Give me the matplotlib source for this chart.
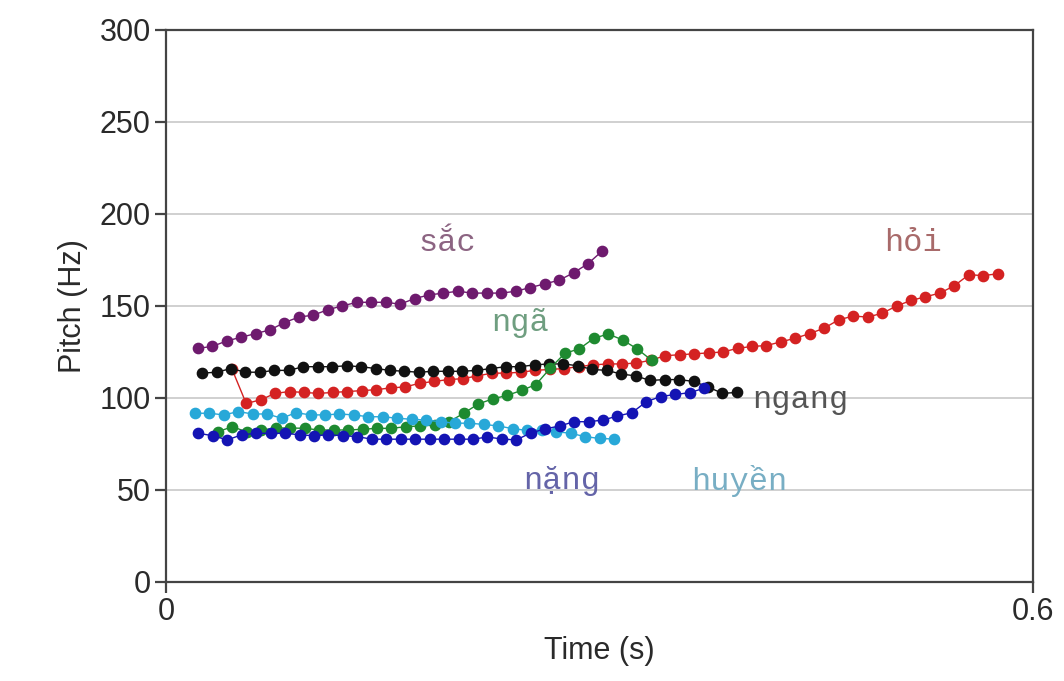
import numpy as np
import matplotlib
matplotlib.use("Agg")
import matplotlib.pyplot as plt

# DATOS (tiempos en s, pitch en Hz), paso de muestreo 0.01 s
# =========================================================
paso = 0.01

sac_t0 = 0.022
sac_f0 = [127, 128, 131, 133, 135, 137, 141, 144, 145, 148, 150, 152, 152, 152, 151,
          154, 156, 157, 158, 157, 157, 157, 158, 160, 162, 164, 168, 173, 180]

ngang_t0 = 0.025
ngang_f0 = [113.5, 114, 116, 114, 114, 115, 115, 117, 117, 117, 117.5, 117, 116, 115, 114.5,
            114, 114.5, 114.5, 114.5, 115, 116, 117, 117, 118, 118.5, 118.5, 117.5, 115.5,
            115, 113, 112, 109.5, 110, 110, 109, 106, 102.5, 103]

hoi_t0 = 0.0455
hoi_f0 = [116, 97, 99, 102.5, 103.5, 103, 102.5, 103, 103.5, 104, 104.5, 105.5, 106, 108,
          109, 110, 110.5, 112, 113.5, 113.5, 114, 115, 115.5, 116, 117, 118, 118.5, 118.5,
          119, 120.5, 123, 123.5, 124, 124.5, 125, 127, 128, 128.5, 130.5, 132.5, 135, 138,
          142.5, 144.5, 144, 146, 150, 153, 155, 157, 161, 167, 166.5, 167.5]

nga_t0 = 0.036
nga_f0 = [81.7, 84.4, 81.5, 82.6, 83.7, 83.7, 83.5, 82.6, 82.6, 82.6, 83, 83.5, 83.5, 84.4,
          84.8, 85.3, 87.1, 91.7, 96.7, 99.5, 101.4, 104.1, 107.3, 116.3, 124.3, 126.7,
          132.4, 134.8, 131.5, 126.7, 120.5]

huyen_t0 = 0.020
huyen_f0 = [91.7, 91.7, 90.8, 92.6, 91.3, 91.3, 89, 92, 90.8, 90.8, 91.3, 90.8, 89.8, 89.8,
            89, 88.4, 88, 87.1, 86.3, 86.3, 85.6, 84.8, 83.3, 82.4, 82.6, 81.7, 80.8, 79,
            78, 77.7]

nang_t0 = 0.0224
nang_f0 = [80.8, 79.5, 77.2, 80, 80.8, 80.8, 80.8, 80, 79.5, 80, 79.5, 79, 77.6, 77.6,
           77.6, 77.6, 77.6, 77.6, 77.6, 77.6, 78.8, 77.7, 77.2, 81, 83.2, 84.8, 87.1,
           87.1, 88, 90.2, 92, 98, 100.8, 101.9, 102.9, 105.3]

# etiquetas: texto, t, f
etiquetas = ["sắc", "hỏi", "ngã", "ngang", "nặng", "huyền"]
etiq_t = [0.1945, 0.517, 0.245, 0.439, 0.274, 0.3965]
etiq_f = [184, 184, 141, 99, 55, 55]
etiq_col = ["#8c6482", "#a86a6a", "#6f9e80", "#555555", "#6464a8", "#78aec4"]

series = [
    (sac_t0, sac_f0, "#6e1a6e"),
    (hoi_t0, hoi_f0, "#d42222"),
    (ngang_t0, ngang_f0, "#111111"),
    (nga_t0, nga_f0, "#1e8a30"),
    (huyen_t0, huyen_f0, "#28a8d8"),
    (nang_t0, nang_f0, "#1414b4"),
]

plt.rcParams["font.family"] = ["Liberation Sans", "DejaVu Sans"]

fig = plt.figure(figsize=(10.64, 6.81), dpi=100)
ax = fig.add_axes([0.156, 0.1454, 0.815, 0.8106])

for t0, f0, col in series:
    t = t0 + paso * np.arange(len(f0))
    ax.plot(t, f0, "-", color=col, lw=1.0, marker="o", ms=7.4,
            mec=col, mfc=col, zorder=3)

for txt, tx, fy, c in zip(etiquetas, etiq_t, etiq_f, etiq_col):
    ax.text(tx, fy, txt, color=c, fontsize=23, ha="center", va="center",
            family=["Liberation Mono", "DejaVu Sans Mono"], zorder=4)

ax.set_xlim(0, 0.6)
ax.set_ylim(0, 300)
ax.set_xticks([0, 0.6])
ax.set_xticklabels(["0", "0.6"])
ax.set_yticks([0, 50, 100, 150, 200, 250, 300])
ax.yaxis.grid(True, color="#c8c8c8", lw=1.2)
ax.set_axisbelow(True)
for s in ax.spines.values():
    s.set_color("#444444")
    s.set_linewidth(1.6)
ax.tick_params(axis="both", direction="out", length=8, width=1.6, color="#444444",
               labelsize=22, labelcolor="#2a2a2a", pad=3)
ax.set_xlabel("Time (s)", fontsize=22, color="#2a2a2a", labelpad=6)
ax.set_ylabel("Pitch (Hz)", fontsize=22, color="#2a2a2a", labelpad=8)

fig.savefig("out.png", dpi=100)
